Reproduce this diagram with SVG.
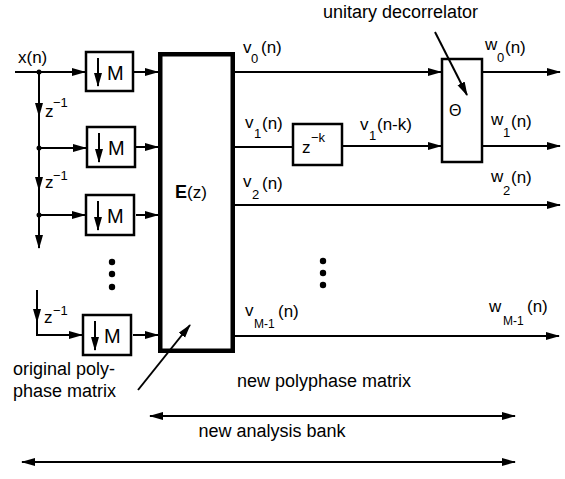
<svg xmlns="http://www.w3.org/2000/svg" width="565" height="479" viewBox="0 0 565 479">
<style>
text{font-family:"Liberation Sans",Arial,sans-serif;fill:#000}
.lb{font-size:17px}
.sb{font-size:13px}
.tx{font-size:18px}
.ln{stroke:#000;stroke-width:2;fill:none}
.ar{stroke:#000;stroke-width:2;fill:none;marker-end:url(#ah)}
.da{stroke:#000;stroke-width:2;fill:none;marker-end:url(#ah);marker-start:url(#ah)}
.bx{stroke:#000;stroke-width:2.5;fill:#fff}
.dot{fill:#000}
</style>
<defs>
<marker id="ah" markerWidth="14" markerHeight="10" refX="13" refY="5" orient="auto-start-reverse" markerUnits="userSpaceOnUse">
<path d="M0,1 L14,5 L0,9 z" fill="#000"/>
</marker>
</defs>

<g id="input">
<text class="lb" x="18" y="63">x(n)</text>
<text class="lb" x="45" y="117">z<tspan class="sb" x="53" y="107">−1</tspan></text>
<text class="lb" x="45" y="188">z<tspan class="sb" x="53" y="180">−1</tspan></text>
<text class="lb" x="44" y="323">z<tspan class="sb" x="53" y="315">−1</tspan></text>
</g>

<g id="down1">
<rect class="bx" x="86" y="52" width="47" height="39"/>
<path class="ar" d="M98,58 V86"/>
<text x="107" y="80" font-size="20">M</text>
</g>
<g id="down2">
<rect class="bx" x="87" y="127" width="48" height="40"/>
<path class="ar" d="M99,133 V162"/>
<text x="108" y="155" font-size="20">M</text>
</g>
<g id="down3">
<rect class="bx" x="86" y="195" width="48" height="40"/>
<path class="ar" d="M98,201 V230"/>
<text x="107" y="223" font-size="20">M</text>
</g>
<g id="down4">
<rect class="bx" x="83" y="315" width="48" height="40"/>
<path class="ar" d="M95,321 V350"/>
<text x="104" y="343" font-size="20">M</text>
</g>
<g id="dotsL">
<circle class="dot" cx="112" cy="262" r="3.2"/>
<circle class="dot" cx="112" cy="274" r="3.2"/>
<circle class="dot" cx="112" cy="287" r="3.2"/>
</g>

<g id="E">
<rect x="160.25" y="54.25" width="72.5" height="296.5" fill="#fff" stroke="#000" stroke-width="4.5"/>
<text x="175" y="198" font-size="18" font-weight="bold">E<tspan font-weight="normal" font-size="17">(z)</tspan></text>
</g>

<g id="zk">
<rect class="bx" x="293" y="124" width="49" height="41"/>
<text class="lb" x="302" y="153">z<tspan class="sb" x="311" y="142">−k</tspan></text>
</g>

<g id="theta">
<rect class="bx" x="442" y="59" width="40" height="103"/>
<text x="449" y="116" font-size="16">Θ</text>
</g>

<g id="labels">
<text class="lb" x="243" y="53">v<tspan class="sb" x="251" y="63">0</tspan><tspan x="261" y="53">(n)</tspan></text>
<text class="lb" x="245" y="128">v<tspan class="sb" x="254" y="138">1</tspan><tspan x="262" y="129">(n)</tspan></text>
<text class="lb" x="243" y="187">v<tspan class="sb" x="252" y="199">2</tspan><tspan x="262" y="189">(n)</tspan></text>
<text class="lb" x="245" y="316">v<tspan font-size="12" x="254" y="328">M-1</tspan><tspan x="278" y="317">(n)</tspan></text>
<text class="lb" x="360" y="130">v<tspan class="sb" x="369" y="140">1</tspan><tspan x="377" y="130">(n-k)</tspan></text>
<text class="lb" x="485" y="50">w<tspan class="sb" x="497" y="62">0</tspan><tspan x="505" y="53">(n)</tspan></text>
<text class="lb" x="491" y="125">w<tspan class="sb" x="503" y="137">1</tspan><tspan x="511" y="127">(n)</tspan></text>
<text class="lb" x="491" y="182">w<tspan class="sb" x="503" y="195">2</tspan><tspan x="511" y="183">(n)</tspan></text>
<text class="lb" x="489" y="312">w<tspan font-size="12" x="503" y="325">M-1</tspan><tspan x="527" y="312">(n)</tspan></text>
</g>

<g id="dotsR">
<circle class="dot" cx="323" cy="261" r="3.2"/>
<circle class="dot" cx="323" cy="273" r="3.2"/>
<circle class="dot" cx="323" cy="285" r="3.2"/>
</g>

<g id="annotations">
<text class="tx" x="323" y="18" font-size="19.5">unitary decorrelator</text>
<text class="tx" x="13" y="375">original poly-</text>
<text class="tx" x="13" y="397">phase matrix</text>
<text class="tx" x="324" y="387" text-anchor="middle">new polyphase matrix</text>
<text class="tx" x="272" y="437" text-anchor="middle">new analysis bank</text>
</g>

<g id="connectors">
<path class="ar" d="M15,72 H85"/>
<path class="ar" d="M39,72 V116"/>
<path class="ln" d="M39,115 V148"/>
<path class="ar" d="M39,148 V190"/>
<path class="ln" d="M39,189 V215"/>
<path class="ar" d="M39,215 V248"/>
<path class="ar" d="M39,148 H86"/>
<path class="ar" d="M39,215 H85"/>
<path class="ar" d="M37,290 V322"/>
<path class="ar" d="M37,320 V335 H82"/>
<path class="ar" d="M134,72 H158"/>
<path class="ar" d="M136,147 H158"/>
<path class="ar" d="M136,215 H158"/>
<path class="ar" d="M133,335 H158"/>
<path class="ar" d="M235,72 H441"/>
<path class="ln" d="M235,147 H293"/>
<path class="ar" d="M342,146 H441"/>
<path class="ar" d="M482,72 H560"/>
<path class="ar" d="M482,146 H560"/>
<path class="ar" d="M235,205 H560"/>
<path class="ar" d="M235,336 H559"/>
<path class="ar" d="M435,32 L467,95" stroke-width="2.5"/>
<path class="ar" d="M138,390 L190,325" stroke-width="2.5"/>
<path class="da" d="M150,416 H515"/>
<path class="da" d="M22,462 H515"/>
<circle class="dot" cx="39" cy="72" r="2.5"/>
<circle class="dot" cx="39" cy="148" r="2.5"/>
<circle class="dot" cx="39" cy="215" r="2.5"/>
</g>
</svg>
